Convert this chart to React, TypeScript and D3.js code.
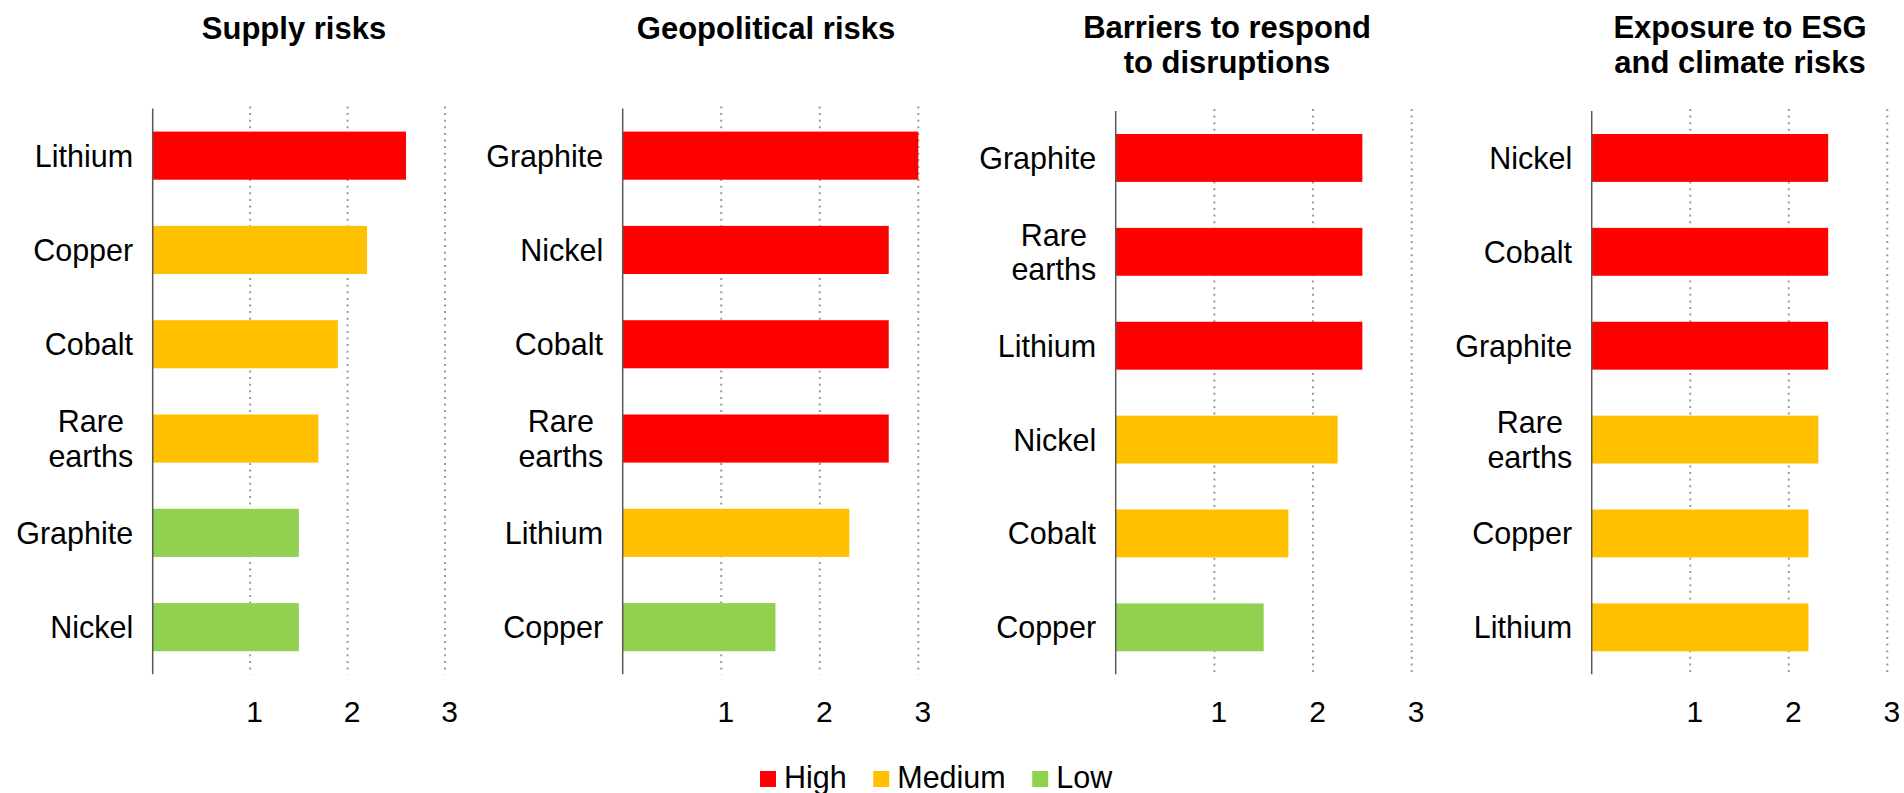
import React, { useEffect, useRef } from 'react';
import * as d3 from 'd3';

// Risk levels and colours
const levels = ['High', 'Medium', 'Low'];
const levelColors = ['#ff0000', '#ffc000', '#92d050'];

// Panel titles (line-broken as in the source)
const titles = [
    ['Supply risks'],
    ['Geopolitical risks'],
    ['Barriers to respond', 'to disruptions'],
    ['Exposure to ESG', 'and climate risks'],
];

// Supply risks
const supplyCats = ['Lithium', 'Copper', 'Cobalt', 'Rare earths', 'Graphite', 'Nickel'];
const supplyVals = [2.6, 2.2, 1.9, 1.7, 1.5, 1.5];
const supplyLevels = ['High', 'Medium', 'Medium', 'Medium', 'Low', 'Low'];

// Geopolitical risks
const geoCats = ['Graphite', 'Nickel', 'Cobalt', 'Rare earths', 'Lithium', 'Copper'];
const geoVals = [3.0, 2.7, 2.7, 2.7, 2.3, 1.55];
const geoLevels = ['High', 'High', 'High', 'High', 'Medium', 'Low'];

// Barriers to respond to disruptions
const barrierCats = ['Graphite', 'Rare earths', 'Lithium', 'Nickel', 'Cobalt', 'Copper'];
const barrierVals = [2.5, 2.5, 2.5, 2.25, 1.75, 1.5];
const barrierLevels = ['High', 'High', 'High', 'Medium', 'Medium', 'Low'];

// Exposure to ESG and climate risks
const esgCats = ['Nickel', 'Cobalt', 'Graphite', 'Rare earths', 'Copper', 'Lithium'];
const esgVals = [2.4, 2.4, 2.4, 2.3, 2.2, 2.2];
const esgLevels = ['High', 'High', 'High', 'Medium', 'Medium', 'Medium'];

const xTicks = [1, 2, 3];

const WIDTH = 1904;
const HEIGHT = 793;
const FONT = '"Liberation Sans", Arial, sans-serif';

// layout per panel (pixel positions)
const layout = [
    { x0: 152.7, x3: 445, top: 108.5, titleX: 294 },
    { x0: 622.7, x3: 918.3, top: 108.5, titleX: 766 },
    { x0: 1115.7, x3: 1411.7, top: 111, titleX: 1227 },
    { x0: 1591.7, x3: 1887.3, top: 111, titleX: 1740 },
];

const App: React.FC = () => {
    const svgRef = useRef<SVGSVGElement>(null);

    useEffect(() => {
        if (!svgRef.current) return;
        const svg = d3.select(svgRef.current);
        svg.selectAll('*').remove();

        const panels = [
            { cats: supplyCats, vals: supplyVals, lv: supplyLevels },
            { cats: geoCats, vals: geoVals, lv: geoLevels },
            { cats: barrierCats, vals: barrierVals, lv: barrierLevels },
            { cats: esgCats, vals: esgVals, lv: esgLevels },
        ];

        const color = d3.scaleOrdinal<string, string>().domain(levels).range(levelColors);
        const bottom = 674.3;

        panels.forEach((p, pi) => {
            const L = layout[pi];
            const g = svg.append('g');

            const x = d3.scaleLinear().domain([0, 3]).range([L.x0, L.x3]);
            const y = d3.scaleBand<string>()
                .domain(p.cats)
                .range([L.top, bottom])
                .paddingInner(0.49)
                .paddingOuter(0.245);

            // Title
            const t = g.append('text')
                .attr('x', L.titleX)
                .attr('y', pi < 2 ? 39 : 37.5)
                .attr('text-anchor', 'middle')
                .style('font-family', FONT)
                .style('font-size', '31px')
                .style('font-weight', 'bold')
                .attr('fill', '#000');
            titles[pi].forEach((line, li) => {
                t.append('tspan').attr('x', L.titleX).attr('dy', li === 0 ? 0 : 35.3).text(line);
            });

            // dotted grid
            g.append('g').selectAll('line')
                .data(xTicks)
                .join('line')
                .attr('x1', d => x(d))
                .attr('x2', d => x(d))
                .attr('y1', L.top - 2)
                .attr('y2', bottom)
                .attr('stroke', '#9a9a9a')
                .attr('stroke-width', 2)
                .attr('stroke-dasharray', '2 4.6');

            // bars
            g.append('g').selectAll('rect')
                .data(p.cats)
                .join('rect')
                .attr('x', x(0))
                .attr('y', d => y(d)!)
                .attr('width', (d, i) => x(p.vals[i]) - x(0))
                .attr('height', y.bandwidth())
                .attr('fill', (d, i) => color(p.lv[i]));

            // axis line
            g.append('line')
                .attr('x1', x(0)).attr('x2', x(0))
                .attr('y1', L.top).attr('y2', bottom)
                .attr('stroke', '#595959')
                .attr('stroke-width', 1.5);

            // category labels (right aligned block, lines centered)
            const labelRight = x(0) - 19.5;
            p.cats.forEach(c => {
                const lines = c.split(' ');
                const cy = y(c)! + y.bandwidth() / 2;
                const lh = 34.3;
                const firstBase = cy - ((lines.length - 1) * lh) / 2 + 30.5 * 0.36;
                const txt = g.append('text')
                    .attr('text-anchor', 'middle')
                    .style('font-family', FONT)
                    .style('font-size', '30.5px')
                    .attr('fill', '#000');
                lines.forEach((ln, li) => {
                    txt.append('tspan')
                        .attr('x', 0)
                        .attr('y', firstBase + li * lh)
                        .text(ln);
                });
                const node = txt.node() as SVGTextElement;
                const w = node.getBBox().width;
                txt.selectAll('tspan').attr('x', labelRight - w / 2);
            });

            // x axis tick labels
            const axis = g.append('g')
                .attr('transform', `translate(0,${bottom})`)
                .call(d3.axisBottom(x).tickValues(xTicks).tickSize(0).tickPadding(26).tickFormat(d3.format('d')) as any);
            axis.select('.domain').remove();
            axis.selectAll('text')
                .attr('dx', 4)
                .attr('fill', '#000')
                .style('font-family', FONT)
                .style('font-size', '30px');
        });

        // legend
        const leg = svg.append('g');
        let lx = 760;
        levels.forEach((lvl, i) => {
            leg.append('rect')
                .attr('x', lx).attr('y', 771)
                .attr('width', 16).attr('height', 16)
                .attr('fill', levelColors[i]);
            const tx = leg.append('text')
                .attr('x', lx + 24)
                .attr('y', 788.3)
                .style('font-family', FONT)
                .style('font-size', '30.5px')
                .attr('fill', '#000')
                .text(lvl);
            const w = (tx.node() as SVGTextElement).getComputedTextLength();
            lx = lx + 24 + w + 26.5;
        });
    }, []);

    return (
        <svg
            ref={svgRef}
            width={WIDTH}
            height={HEIGHT}
            style={{ position: 'absolute', left: 0, top: 0, background: '#fff', display: 'block' }}
        />
    );
};

export default App;
